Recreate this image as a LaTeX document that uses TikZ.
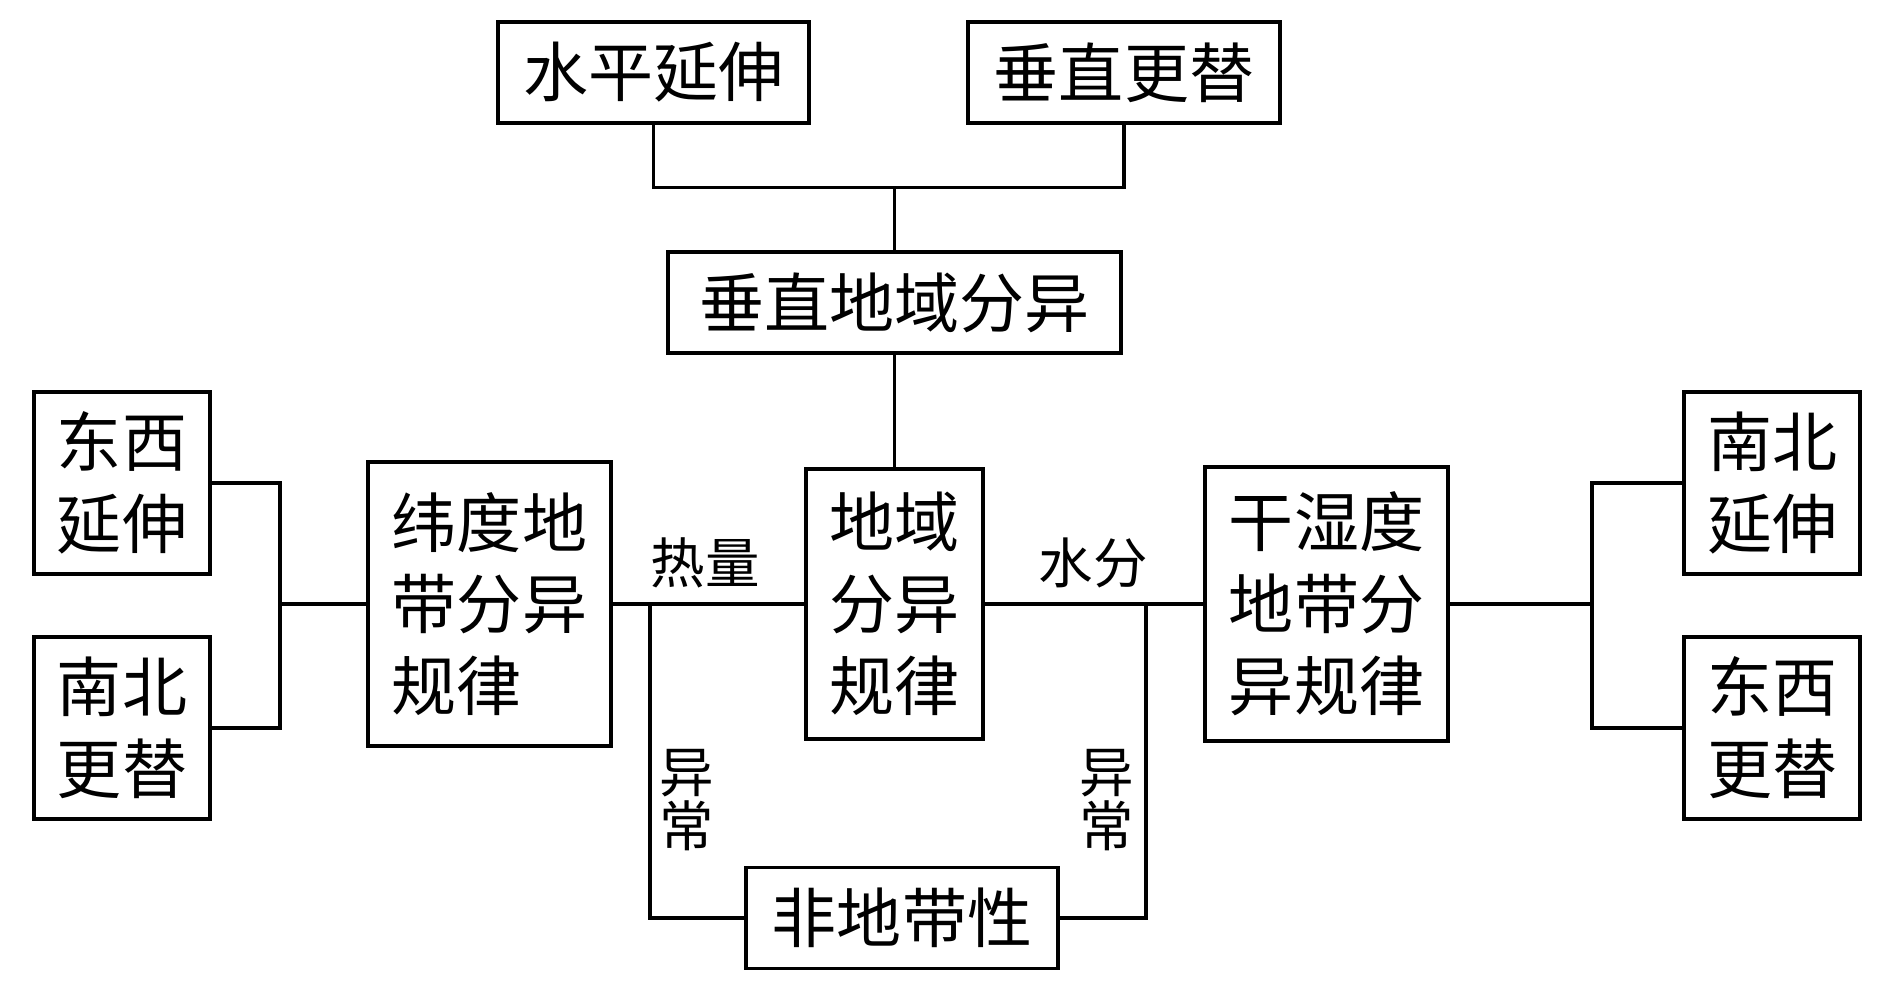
\documentclass[tikz,border=0pt]{standalone}
\usepackage{fontspec}
\setmainfont{Noto Sans CJK SC}
\usepackage{tikz}
\usetikzlibrary{calc}

\begin{document}
\begin{tikzpicture}[
        box/.style={draw, line width=0.9pt, inner sep=0pt, align=center, font=\fontsize{18.5}{23.3}\selectfont},
        lbl/.style={inner sep=0pt, align=center, font=\fontsize{15.5}{15.5}\selectfont}
    ]
        %GRID
        %\draw[blue] (0,0) grid (19,10);
        \useasboundingbox (0,0) rectangle (18.91,9.90);
        %KOTAK
        \node[box, minimum width=3.11cm, minimum height=1.01cm] (sp) at (6.535,9.175) {水平延伸};
        \node[box, minimum width=3.12cm, minimum height=1.01cm] (cg) at (11.24,9.175) {垂直更替};
        \node[box, minimum width=4.53cm, minimum height=1.01cm] (czdy) at (8.945,6.875) {垂直地域分异};
        \node[box, minimum width=1.77cm, minimum height=2.70cm] (dy) at (8.945,3.86) {地域\\分异\\规律};
        \node[box, align=left, minimum width=2.43cm, minimum height=2.84cm] (wd) at (4.895,3.86) {纬度地\\带分异\\规律};
        \node[box, minimum width=2.43cm, minimum height=2.74cm] (gs) at (13.265,3.86) {干湿度\\地带分\\异规律};
        \node[box, minimum width=1.76cm, minimum height=1.82cm] (dxys) at (1.22,5.07) {东西\\延伸};
        \node[box, minimum width=1.76cm, minimum height=1.82cm] (nbgt) at (1.22,2.62) {南北\\更替};
        \node[box, minimum width=1.76cm, minimum height=1.82cm] (nbys) at (17.72,5.07) {南北\\延伸};
        \node[box, minimum width=1.76cm, minimum height=1.82cm] (dxgt) at (17.72,2.62) {东西\\更替};
        \node[box, minimum width=3.12cm, minimum height=1.01cm] (fd) at (9.02,0.72) {非地带性};
        %KOORDINAT
        \path (czdy.north) ++(0,0.63) coordinate (T);
        \coordinate (L) at (2.80,3.86);
        \coordinate (R) at (15.92,3.86);
        \coordinate (A1) at (6.50,3.86);
        \coordinate (A2) at (11.46,3.86);
        %GARIS
        \draw[line width=0.9pt] (sp.south) |- (T) -| (cg.south);
        \draw[line width=0.9pt] (T) -- (czdy.north);
        \draw[line width=0.9pt] (czdy.south) -- (dy.north);
        \draw[line width=0.9pt] (dxys.east) -| (L) |- (nbgt.east);
        \draw[line width=0.9pt] (L) -- (wd.west);
        \draw[line width=0.9pt] (nbys.west) -| (R) |- (dxgt.west);
        \draw[line width=0.9pt] (R) -- (gs.east);
        \draw[line width=0.9pt] (wd.east) -- (dy.west);
        \draw[line width=0.9pt] (dy.east) -- (gs.west);
        \draw[line width=0.9pt] (A1) |- (fd.west);
        \draw[line width=0.9pt] (A2) |- (fd.east);
        %LABEL
        \node[lbl] (rl) at (7.05,4.27) {热量};
        \node[lbl] (sf) at (10.93,4.27) {水分};
        \node[lbl] (yc1) at (6.87,1.90) {异\\常};
        \node[lbl] (yc2) at (11.07,1.90) {异\\常};
    \end{tikzpicture}
\end{document}
